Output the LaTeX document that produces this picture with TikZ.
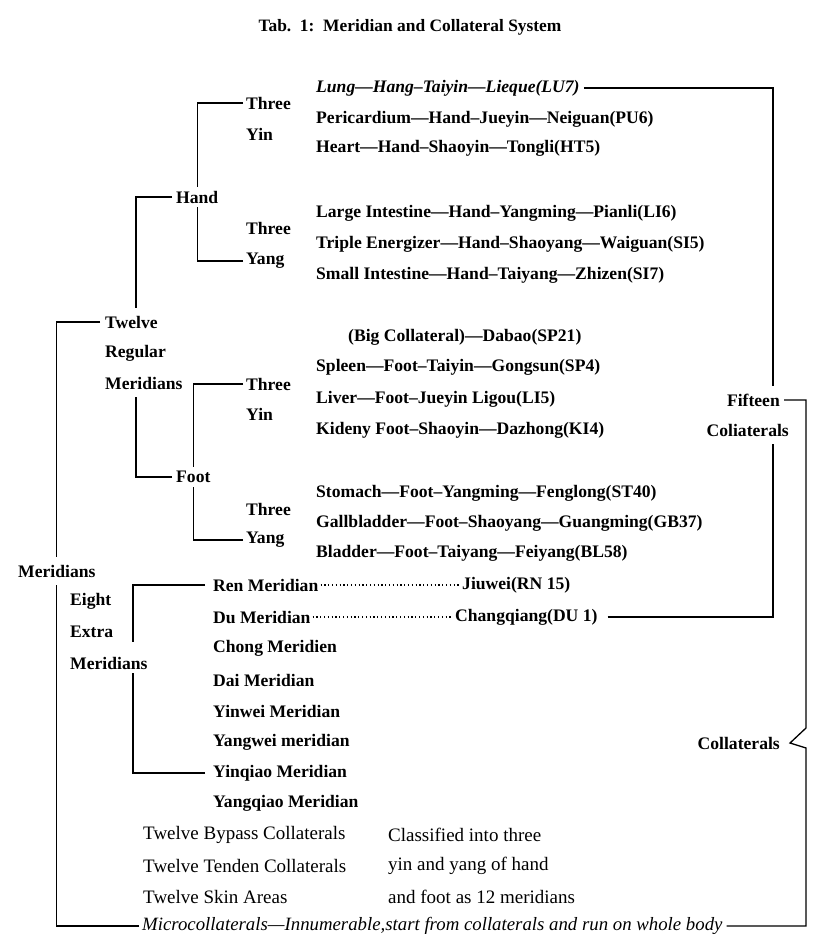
\documentclass[tikz,border=0pt]{standalone}
\usepackage{fontspec}
\setmainfont{Liberation Serif}
\usetikzlibrary{calc}
\begin{document}
\begin{tikzpicture}[x=1pt,y=-1pt,
  txt/.style={anchor=west,inner sep=0pt,font=\fontsize{17.6}{20}\selectfont\bfseries},
  itxt/.style={anchor=west,inner sep=0pt,font=\fontsize{17.6}{20}\selectfont\bfseries\itshape},
  rtxt/.style={anchor=west,inner sep=0pt,font=\fontsize{19}{22}\selectfont},
  mtxt/.style={anchor=west,inner sep=0pt,font=\fontsize{18.8}{22}\selectfont\itshape},
  ttl/.style={inner sep=0pt,font=\fontsize{17.4}{20}\selectfont\bfseries},
  ln/.style={line width=1.3pt},
  dots/.style={line width=1.2pt,dash pattern=on 1.2pt off 2.6pt}]
\useasboundingbox (0,0) rectangle (837,947);
\fill[white] (0,0) rectangle (837,947);

\node[ttl] (title) at (410,27) {Tab.~~1:~~Meridian and Collateral System};

% right column: collaterals
\node[itxt] (lung)    at (316,88)  {Lung—Hang–Taiyin—Lieque(LU7)};
\node[txt]  (peri)    at (316,119) {Pericardium—Hand–Jueyin—Neiguan(PU6)};
\node[txt]  (heart)   at (316,148) {Heart—Hand–Shaoyin—Tongli(HT5)};
\node[txt]  (large)   at (316,213) {Large Intestine—Hand–Yangming—Pianli(LI6)};
\node[txt]  (triple)  at (316,244) {Triple Energizer—Hand–Shaoyang—Waiguan(SI5)};
\node[txt]  (small)   at (316,275) {Small Intestine—Hand–Taiyang—Zhizen(SI7)};
\node[txt]  (big)     at (348,337) {(Big Collateral)—Dabao(SP21)};
\node[txt]  (spleen)  at (316,367) {Spleen—Foot–Taiyin—Gongsun(SP4)};
\node[txt]  (liver)   at (316,399) {Liver—Foot–Jueyin Ligou(LI5)};
\node[txt]  (kidney)  at (316,430) {Kideny Foot–Shaoyin—Dazhong(KI4)};
\node[txt]  (stomach) at (316,493) {Stomach—Foot–Yangming—Fenglong(ST40)};
\node[txt]  (gall)    at (316,523) {Gallbladder—Foot–Shaoyang—Guangming(GB37)};
\node[txt]  (bladder) at (316,553) {Bladder—Foot–Taiyang—Feiyang(BL58)};

% eight extra meridians
\node[txt] (ren)      at (213,585) {Ren Meridian};
\node[txt] (du)       at (213,617) {Du Meridian};
\node[txt] (chong)    at (213,648) {Chong Meridien};
\node[txt] (dai)      at (213,680) {Dai Meridian};
\node[txt] (yinwei)   at (213,711) {Yinwei Meridian};
\node[txt] (yangwei)  at (213,742) {Yangwei meridian};
\node[txt] (yinqiao)  at (213,773) {Yinqiao Meridian};
\node[txt] (yangqiao) at (213,803) {Yangqiao Meridian};
\node[txt] (jiuwei)   at (462,585) {Jiuwei(RN 15)};
\node[txt] (chang)    at (455,617) {Changqiang(DU 1)};

% bottom rows
\node[rtxt] (bypass) at (143,835) {Twelve Bypass Collaterals};
\node[rtxt] (tenden) at (143,866) {Twelve Tenden Collaterals};
\node[rtxt] (skin)   at (143,897) {Twelve Skin Areas};
\node[rtxt] (cls1)   at (388,835) {Classified into three};
\node[rtxt] (cls2)   at (388,866) {yin and yang of hand};
\node[rtxt] (cls3)   at (388,897) {and foot as 12 meridians};
\node[mtxt] (micro)  at (142,926) {Microcollaterals—Innumerable,start from collaterals and run on whole body};

% left tree
\node[txt] (threeA) at (246,103) {Three};
\node[txt] (yinA)   at (246,134) {Yin};
\node[txt] (hand)   at (176,197) {Hand};
\node[txt] (threeB) at (246,228) {Three};
\node[txt] (yangB)  at (246,261) {Yang};
\node[txt] (twelve) at (105,322) {Twelve};
\node[txt] (regular) at (105,353) {Regular};
\node[txt] (merA)   at (105,383) {Meridians};
\node[txt] (threeC) at (246,384) {Three};
\node[txt] (yinC)   at (246,414) {Yin};
\node[txt] (foot)   at (176,477) {Foot};
\node[txt] (threeD) at (246,509) {Three};
\node[txt] (yangD)  at (246,540) {Yang};
\node[txt] (mer)    at (18,571)  {Meridians};
\node[txt] (eight)  at (70,601)  {Eight};
\node[txt] (extra)  at (70,632)  {Extra};
\node[txt] (merB)   at (70,663)  {Meridians};

% right labels
\node[txt,anchor=east] (fifteen) at (780,400) {Fifteen};
\node[txt,anchor=east] (colia)   at (789,430) {Coliaterals};
\node[txt,anchor=east] (coll)    at (780,743) {Collaterals};

% bracket columns
\coordinate (colB) at (136,0);
\coordinate (colC) at (133,0);
\coordinate (colR1) at (773,0);
\coordinate (colR2) at (806,0);

% hand bracket
\draw[ln] ([xshift=-3pt]threeA.west) -| ([yshift=4pt]hand.north);
\draw[ln] ([xshift=-3pt]yangB.west) -| ([yshift=-4pt]hand.south);
% foot bracket
\draw[ln] ([xshift=-3pt]threeC.west) -| ([yshift=4pt]foot.north);
\draw[ln] ([xshift=-3pt]yangD.west) -| ([yshift=-4pt]foot.south);
% twelve regular meridians bracket
\draw[ln] ([xshift=-4pt]hand.west) -| ($(colB |- twelve.north)+(0pt,8pt)$);
\draw[ln] ([xshift=-4pt]foot.west) -| ($(colB |- merA.south)+(0pt,-8pt)$);
% meridians bracket
\draw[ln] ([xshift=-5pt]twelve.west) -| ([yshift=8pt]mer.north);
\draw[ln] ([xshift=-3pt]micro.west) -| ([yshift=-8pt]mer.south);
% eight extra meridians bracket
\draw[ln] ([xshift=-8pt]ren.west) -| ($(colC |- extra.south)+(0pt,-4pt)$);
\draw[ln] ([xshift=-8pt]yinqiao.west) -| ($(colC |- merB.south)+(0pt,-4pt)$);
% dotted leaders
\draw[dots] ([xshift=2pt]ren.east) -- ([xshift=-2pt]jiuwei.west);
\draw[dots] ([xshift=2pt]du.east) -- ([xshift=-2pt]chang.west);
% fifteen collaterals bracket
\draw[ln] ([xshift=4pt]lung.east) -| ($(colR1 |- fifteen.north)+(0pt,8pt)$);
\draw[ln] ([xshift=10pt]chang.east) -| ($(colR1 |- colia.south)+(0pt,-8pt)$);
% collaterals brace
\draw[ln] ([xshift=4pt]fifteen.east) -| ($(colR2 |- coll.center)+(0pt,15pt)$)
  -- ([xshift=10pt]coll.east) -- ($(colR2 |- coll.center)+(0pt,-5pt)$)
  |- ([xshift=4pt]micro.east);
\end{tikzpicture}
\end{document}
